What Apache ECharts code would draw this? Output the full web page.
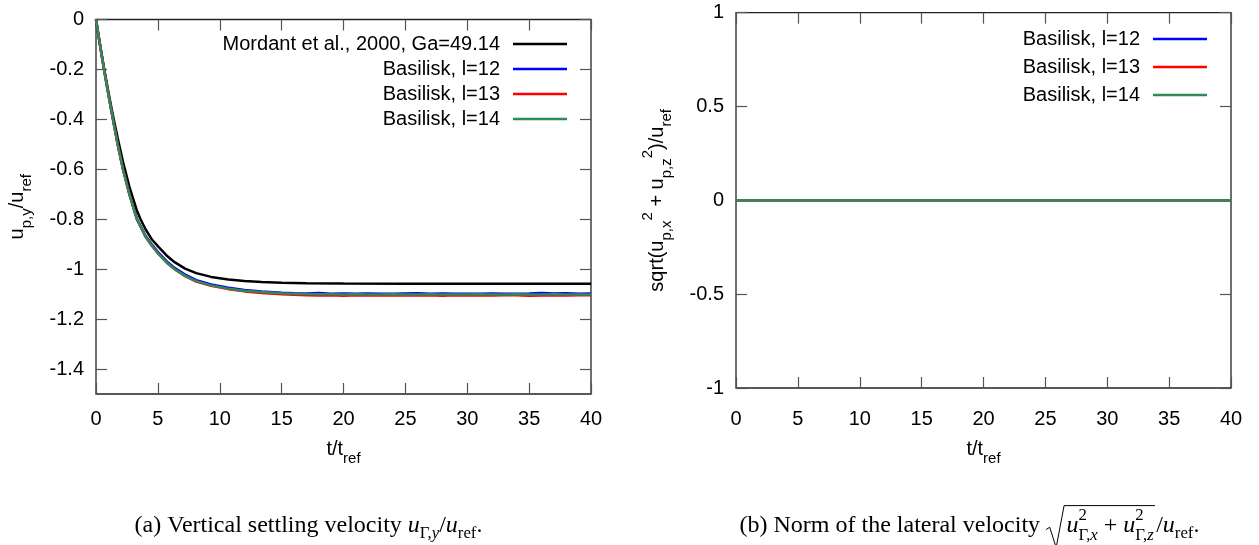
<!DOCTYPE html>
<html>
<head>
<meta charset="utf-8">
<title>Settling particle velocity</title>
<script src="https://cdn.jsdelivr.net/npm/echarts@6/dist/echarts.min.js"></script>
<style>
  html, body { margin: 0; padding: 0; background: #ffffff; }
  #chart { width: 1259px; height: 545px; }
</style>
</head>
<body>
<div id="chart"></div>
<script>
// ---- data -------------------------------------------------------------
// time samples t/t_ref of the reference correlation
const tMordant = [0, 0.3, 0.65, 1, 1.37, 1.75, 2.18, 2.7, 3.3, 3.6, 4, 4.5, 5.07, 5.7, 6.35, 7.2, 8.1, 9.3, 10.7, 12, 13.4, 15, 17, 20, 25, 30, 35, 40];
// vertical velocity u_p,y / u_ref, Mordant et al. (2000), Ga = 49.14
const vMordant = [0, -0.093, -0.195, -0.29, -0.385, -0.475, -0.57, -0.67, -0.765, -0.80, -0.84, -0.88, -0.912, -0.945, -0.972, -0.998, -1.016, -1.031, -1.041, -1.047, -1.051, -1.054, -1.056, -1.057, -1.058, -1.058, -1.058, -1.058];

// time samples t/t_ref of the Basilisk runs
const tBasilisk = [0, 0.3, 0.65, 1, 1.37, 1.75, 2.18, 2.7, 3.3, 4, 4.5, 5.07, 5.7, 6.35, 7.2, 8.1, 9.3, 10.7, 12, 13.4, 15,
  16, 17, 18, 19, 20, 21, 22, 23, 24, 25, 26, 27, 28, 29, 30, 31, 32, 33, 34, 35, 36, 37, 38, 39, 40];
// vertical velocity for refinement levels 12, 13, 14
const vL12 = [0, -0.095, -0.20, -0.30, -0.40, -0.50, -0.60, -0.70, -0.798, -0.866, -0.90, -0.935, -0.968, -0.995, -1.022, -1.044, -1.061, -1.074, -1.083, -1.089, -1.094,
  -1.096, -1.097, -1.095, -1.098, -1.097, -1.098, -1.097, -1.098, -1.098, -1.097, -1.096, -1.098, -1.097, -1.098, -1.098, -1.098, -1.097, -1.098, -1.098, -1.097, -1.095, -1.097, -1.096, -1.098, -1.097];
const vL13 = [0, -0.095, -0.20, -0.30, -0.40, -0.50, -0.60, -0.70, -0.80, -0.87, -0.905, -0.94, -0.973, -1.00, -1.028, -1.05, -1.067, -1.08, -1.089, -1.095, -1.100,
  -1.102, -1.104, -1.105, -1.104, -1.106, -1.104, -1.105, -1.104, -1.105, -1.104, -1.105, -1.104, -1.106, -1.104, -1.105, -1.104, -1.105, -1.104, -1.104, -1.106, -1.105, -1.104, -1.105, -1.104, -1.104];
const vL14 = [0, -0.095, -0.20, -0.30, -0.40, -0.50, -0.60, -0.70, -0.80, -0.87, -0.905, -0.94, -0.973, -1.00, -1.027, -1.048, -1.065, -1.078, -1.086, -1.091, -1.096,
  -1.098, -1.099, -1.100, -1.100, -1.101, -1.100, -1.101, -1.101, -1.100, -1.101, -1.101, -1.100, -1.101, -1.101, -1.101, -1.100, -1.101, -1.101, -1.100, -1.101, -1.101, -1.100, -1.101, -1.101, -1.101];

// lateral velocity norm sqrt(u_x^2 + u_z^2) / u_ref
const tLateral = [0, 20.9, 21, 21.1, 27.9, 28, 28.1, 32.4, 32.5, 32.6, 38.9, 39, 39.1, 40];
const latL12 = [0, 0, 0, 0, 0, 0.004, 0, 0, 0.004, 0, 0, 0, 0, 0];
const latL13 = [0, 0, 0, 0, 0, 0, 0, 0, 0, 0, 0, 0, 0, 0];
const latL14 = [0, 0, 0.002, 0, 0, 0, 0, 0, 0, 0, 0, 0.002, 0, 0];

// axis ticks
const xTicks = { min: 0, max: 40, step: 5 };
const yTicksVertical = [0, -0.2, -0.4, -0.6, -0.8, -1, -1.2, -1.4];
const yRangeVertical = [-1.5, 0];
const yTicksLateral = { min: -1, max: 1, step: 0.5 };

const NAME_MORDANT = 'Mordant et al., 2000, Ga=49.14';
const NAME_L12 = 'Basilisk, l=12';
const NAME_L13 = 'Basilisk, l=13';
const NAME_L14 = 'Basilisk, l=14';

// ---- styling ----------------------------------------------------------
const SANS = '"Liberation Sans", Arial, Helvetica, sans-serif';
const SERIF = '"Liberation Serif", "Times New Roman", serif';
const COLORS = { mordant: '#000000', l12: '#0000ff', l13: '#ff0000', l14: '#2e8b57' };
const W = 1259;
const GRIDS = [
  { left: 96, top: 19.5, width: 495, height: 374.5 },
  { left: 736, top: 12.7, width: 495, height: 375.3 }
];

const zip = (xs, ys) => xs.map((x, i) => [x, ys[i]]);

// ---- rich inline formulas (sub/superscripts) built as graphic text runs -
const measureCtx = document.createElement('canvas').getContext('2d');
function textWidth(str, size, family, italic) {
  measureCtx.font = (italic ? 'italic ' : '') + size + 'px ' + family;
  return measureCtx.measureText(str).width;
}
const SUB = { scale: 0.75, dy: 0.5 };
const SUP = { scale: 0.75, dy: -0.45 };

function buildRun(pieces, f, family) {
  const items = [];
  const paths = [];
  let x = 0;
  let radStart = null;
  const place = (p, x0) => {
    const size = f * (p.scale || 1);
    items.push({
      type: 'text', x: x0, y: (p.dy || 0) * f,
      style: { text: p.t, fontSize: size, fontFamily: family, fontStyle: p.it ? 'italic' : 'normal',
               fill: '#000', align: 'left', verticalAlign: 'middle' }
    });
    return textWidth(p.t, size, family, p.it);
  };
  pieces.forEach(p => {
    if (p.radStart) { radStart = x; x += 0.85 * f; return; }
    if (p.radEnd) {
      const x0 = radStart;
      paths.push({ type: 'polyline', shape: { points: [
        [x0, 0.15 * f], [x0 + 0.15 * f, 0.05 * f], [x0 + 0.42 * f, 0.9 * f],
        [x0 + 0.75 * f, -0.85 * f], [x + 0.05 * f, -0.85 * f]] },
        style: { stroke: '#000', lineWidth: 1, fill: null } });
      x += 0.1 * f;
      return;
    }
    if (p.stack) {
      const w1 = place({ t: p.stack, scale: 0.7, dy: -0.42 }, x);
      let w2 = 0;
      p.under.forEach(q => { w2 += place(Object.assign({ scale: 0.7, dy: 0.4 }, q), x + w2); });
      x += Math.max(w1, w2);
      return;
    }
    x += place(p, x);
  });
  const shift = -x / 2;
  items.forEach(it => { it.x += shift; });
  paths.forEach(pa => { pa.shape.points = pa.shape.points.map(pt => [pt[0] + shift, pt[1]]); });
  return { children: items.concat(paths), width: x };
}

function formula(pieces, f, family, cx, cy, rotation, targetWidth) {
  let size = f;
  if (targetWidth) {
    const probe = buildRun(pieces, f, family);
    size = Math.max(16, Math.min(24, f * targetWidth / probe.width));
  }
  const run = buildRun(pieces, size, family);
  return { type: 'group', x: cx, y: cy, rotation: rotation || 0, children: run.children, silent: true };
}

const sub = (t, it) => ({ t, it, scale: SUB.scale, dy: SUB.dy });
const sup = (t) => ({ t, scale: SUP.scale, dy: SUP.dy });

const yTitleLeft = [{ t: 'u' }, sub('p,y'), { t: '/u' }, sub('ref')];
const yTitleRight = [{ t: 'sqrt(u' }, sub('p,x'), sup('2'), { t: ' + u' }, sub('p,z'), sup('2'), { t: ')/u' }, sub('ref')];
const xTitle = [{ t: 't/t' }, sub('ref')];
const csub = (t, it) => ({ t, it, scale: 0.7, dy: 0.32 });
const captionA = [{ t: '(a) Vertical settling velocity ' }, { t: 'u', it: true }, csub('Γ,'), csub('y', true),
  { t: '/' }, { t: 'u', it: true }, csub('ref'), { t: '.' }];
const captionB = [{ t: '(b) Norm of the lateral velocity ' }, { radStart: true },
  { t: 'u', it: true }, { stack: '2', under: [{ t: 'Γ,' }, { t: 'x', it: true }] },
  { t: ' + ' },
  { t: 'u', it: true }, { stack: '2', under: [{ t: 'Γ,' }, { t: 'z', it: true }] },
  { radEnd: true }, { t: '/' }, { t: 'u', it: true }, csub('ref'), { t: '.' }];

// ---- axes ------------------------------------------------------------
const tickStyle = () => ({ show: true, inside: true, length: 11, lineStyle: { color: '#555', width: 1.2 } });
const labelStyle = () => ({ color: '#000', fontSize: 20, fontFamily: SANS, lineHeight: 20 });
const hiddenLine = () => ({ show: false, onZero: false });

function xAxisPair(gridIndex, margin) {
  const base = () => ({ gridIndex, type: 'value', min: xTicks.min, max: xTicks.max, interval: xTicks.step,
    axisLine: hiddenLine(), splitLine: { show: false }, axisTick: tickStyle() });
  return [
    Object.assign(base(), { position: 'bottom', axisLabel: Object.assign({ margin }, labelStyle()) }),
    Object.assign(base(), { position: 'top', axisLabel: { show: false } })
  ];
}

const yAxes = [
  { gridIndex: 0, type: 'value', position: 'left', min: yRangeVertical[0], max: yRangeVertical[1],
    axisLine: hiddenLine(), splitLine: { show: false },
    axisTick: Object.assign(tickStyle(), { customValues: yTicksVertical }),
    axisLabel: Object.assign(labelStyle(), { margin: 12, customValues: yTicksVertical }) },
  { gridIndex: 0, type: 'value', position: 'right', min: yRangeVertical[0], max: yRangeVertical[1],
    axisLine: hiddenLine(), splitLine: { show: false },
    axisTick: Object.assign(tickStyle(), { customValues: yTicksVertical }), axisLabel: { show: false } },
  { gridIndex: 1, type: 'value', position: 'left', min: yTicksLateral.min, max: yTicksLateral.max, interval: yTicksLateral.step,
    axisLine: hiddenLine(), splitLine: { show: false }, axisTick: tickStyle(),
    axisLabel: Object.assign(labelStyle(), { margin: 12 }) },
  { gridIndex: 1, type: 'value', position: 'right', min: yTicksLateral.min, max: yTicksLateral.max, interval: yTicksLateral.step,
    axisLine: hiddenLine(), splitLine: { show: false }, axisTick: tickStyle(), axisLabel: { show: false } }
];

function line(name, data, color, xi, yi, z) {
  return { type: 'line', name, data, xAxisIndex: xi, yAxisIndex: yi, symbol: 'none', showSymbol: false,
    lineStyle: { color, width: 2.5 }, itemStyle: { color }, z, animation: false, silent: true };
}

const legendBase = () => ({
  orient: 'vertical', align: 'right', padding: 0, icon: 'rect', itemWidth: 54, itemHeight: 2.5,
  selectedMode: false, textStyle: { color: '#000', fontSize: 20, fontFamily: SANS, lineHeight: 20, padding: [0, 8, 0, 0] }
});

const option = {
  backgroundColor: '#ffffff',
  animation: false,
  grid: GRIDS.map(g => Object.assign({ show: true, borderColor: '#222', borderWidth: 1.3,
    backgroundColor: 'transparent', containLabel: false, outerBoundsMode: 'none' }, g)),
  xAxis: xAxisPair(0, 15.5).concat(xAxisPair(1, 21.5)),
  yAxis: yAxes,
  legend: [
    Object.assign(legendBase(), { right: W - 567, top: 34, itemGap: 5,
      data: [NAME_MORDANT, NAME_L12, NAME_L13, NAME_L14] }),
    Object.assign(legendBase(), { right: W - 1207, top: 29, itemGap: 8,
      data: [NAME_L12, NAME_L13, NAME_L14] })
  ],
  series: [
    line(NAME_MORDANT, zip(tMordant, vMordant), COLORS.mordant, 0, 0, 2),
    line(NAME_L12, zip(tBasilisk, vL12), COLORS.l12, 0, 0, 3),
    line(NAME_L13, zip(tBasilisk, vL13), COLORS.l13, 0, 0, 4),
    line(NAME_L14, zip(tBasilisk, vL14), COLORS.l14, 0, 0, 5),
    line(NAME_L12, zip(tLateral, latL12), COLORS.l12, 2, 2, 3),
    line(NAME_L13, zip(tLateral, latL13), COLORS.l13, 2, 2, 4),
    line(NAME_L14, zip(tLateral, latL14), COLORS.l14, 2, 2, 5)
  ],
  graphic: [
    formula(yTitleLeft, 20, SANS, 17, GRIDS[0].top + GRIDS[0].height / 2, Math.PI / 2),
    formula(yTitleRight, 20, SANS, 657, GRIDS[1].top + GRIDS[1].height / 2, Math.PI / 2),
    formula(xTitle, 20, SANS, GRIDS[0].left + GRIDS[0].width / 2, 449),
    formula(xTitle, 20, SANS, GRIDS[1].left + GRIDS[1].width / 2, 449),
    formula(captionA, 19, SERIF, 308.5, 526, 0, 379),
    formula(captionB, 19, SERIF, 969.5, 526, 0, 551)
  ]
};

const chart = echarts.init(document.getElementById('chart'), null, { renderer: 'canvas' });
chart.setOption(option);
</script>
</body>
</html>
